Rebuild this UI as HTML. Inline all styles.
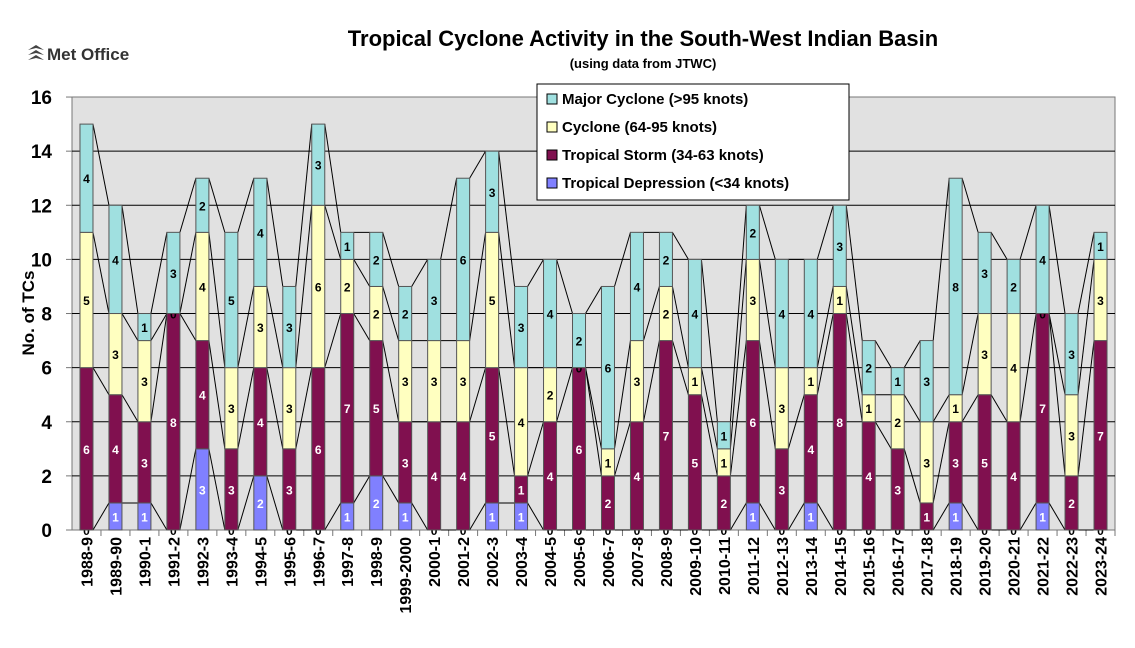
<!DOCTYPE html>
<html><head><meta charset="utf-8"><style>
body{margin:0;background:#fff;width:1135px;height:643px;overflow:hidden;font-family:"Liberation Sans",Arial,sans-serif}
svg text{font-family:"Liberation Sans",Arial,sans-serif}
</style></head><body>
<svg id="c" width="1135" height="643" xmlns="http://www.w3.org/2000/svg">
<rect x="72" y="97" width="1043" height="433" fill="#e1e1e1" stroke="#777" stroke-width="1"/>
<text x="643" y="46" text-anchor="middle" font-size="22" font-weight="bold">Tropical Cyclone Activity in the South-West Indian Basin</text>
<text x="643" y="68" text-anchor="middle" font-size="13" font-weight="bold">(using data from JTWC)</text>
<path d="M28 50 l8 -5 l8 5 l-8 -2z M28 55 l8 -5 l8 5 l-8 -2z M28 60 l8 -5 l8 5 l-8 -2z" fill="#444"/>
<text x="47" y="60" font-size="17" font-weight="bold" fill="#333">Met Office</text>
<text transform="translate(34,313) rotate(-90)" text-anchor="middle" font-size="17" font-weight="bold">No. of TCs</text>
<g id="grid"></g><g id="bars"></g>
<g>
<rect x="537" y="84" width="312" height="116" fill="#fff" stroke="#000"/>
<rect x="547" y="94" width="10" height="10" fill="#a0e0e0" stroke="#000"/><text x="562" y="104" font-size="15" font-weight="bold">Major Cyclone (&gt;95 knots)</text>
<rect x="547" y="122" width="10" height="10" fill="#ffffc0" stroke="#000"/><text x="562" y="132" font-size="15" font-weight="bold">Cyclone (64-95 knots)</text>
<rect x="547" y="150" width="10" height="10" fill="#80104f" stroke="#000"/><text x="562" y="160" font-size="15" font-weight="bold">Tropical Storm (34-63 knots)</text>
<rect x="547" y="178" width="10" height="10" fill="#8080ff" stroke="#000"/><text x="562" y="188" font-size="15" font-weight="bold">Tropical Depression (&lt;34 knots)</text>
</g>
</svg>
<script>
var cats=["1988-9","1989-90","1990-1","1991-2","1992-3","1993-4","1994-5","1995-6","1996-7","1997-8","1998-9","1999-2000","2000-1","2001-2","2002-3","2003-4","2004-5","2005-6","2006-7","2007-8","2008-9","2009-10","2010-11","2011-12","2012-13","2013-14","2014-15","2015-16","2016-17","2017-18","2018-19","2019-20","2020-21","2021-22","2022-23","2023-24"];
var d=[[0,6,5,4],[1,4,3,4],[1,3,3,1],[0,8,0,3],[3,4,4,2],[0,3,3,5],[2,4,3,4],[0,3,3,3],[0,6,6,3],[1,7,2,1],[2,5,2,2],[1,3,3,2],[0,4,3,3],[0,4,3,6],[1,5,5,3],[1,1,4,3],[0,4,2,4],[0,6,0,2],[0,2,1,6],[0,4,3,4],[0,7,2,2],[0,5,1,4],[0,2,1,1],[1,6,3,2],[0,3,3,4],[1,4,1,4],[0,8,1,3],[0,4,1,2],[0,3,2,1],[0,1,3,3],[1,3,1,8],[0,5,3,3],[0,4,4,2],[1,7,0,4],[0,2,3,3],[0,7,3,1]];
var col=["#8080ff","#80104f","#ffffc0","#a0e0e0"];
var L=72,B=530,H=27.06,W=1043/36,bw=13;
var s='';
for(var v=0;v<=16;v+=2){var y=B-v*H;if(v>0&&v<16)s+='<line x1="72" x2="1115" y1="'+y+'" y2="'+y+'" stroke="#000" stroke-width="1"/>';
s+='<line x1="66" x2="72" y1="'+y+'" y2="'+y+'" stroke="#777"/><text x="52" y="'+(y+7)+'" text-anchor="end" font-size="19" font-weight="bold">'+v+'</text>';}
for(var i=0;i<36;i++){var cx=L+W*(i+0.5);var xx=L+W*(i+1);s+='<line x1="'+xx+'" x2="'+xx+'" y1="530" y2="536" stroke="#777"/>';
s+='<text transform="translate('+(cx+6)+',537) rotate(-90)" text-anchor="end" font-size="16" font-weight="bold">'+cats[i]+'</text>';}
document.getElementById('grid').innerHTML=s;
s='';
for(var i=0;i<35;i++){var c=0,c2=0;for(var k=0;k<4;k++){c+=d[i][k];c2+=d[i+1][k];
var x1=L+W*(i+0.5)+bw/2,x2=L+W*(i+1.5)-bw/2;s+='<line x1="'+x1+'" y1="'+(B-c*H)+'" x2="'+x2+'" y2="'+(B-c2*H)+'" stroke="#000" stroke-width="1"/>';}}
for(var i=0;i<36;i++){var cx=L+W*(i+0.5),c=0;
for(var k=0;k<4;k++){var v=d[i][k];var y0=B-c*H,y1=B-(c+v)*H;
if(v>0)s+='<rect x="'+(cx-bw/2)+'" y="'+y1+'" width="'+bw+'" height="'+(v*H)+'" fill="'+col[k]+'" stroke="#555" stroke-width="1"/>';
var ly=(y0+y1)/2+5;var fc=(k<=1&&v>0)?"#fff":"#000";
s+='<text x="'+cx+'" y="'+ly+'" text-anchor="middle" font-size="12" font-weight="bold" fill="'+fc+'">'+v+'</text>';
c+=v;}}
document.getElementById('bars').innerHTML=s;
</script>
</body></html>
